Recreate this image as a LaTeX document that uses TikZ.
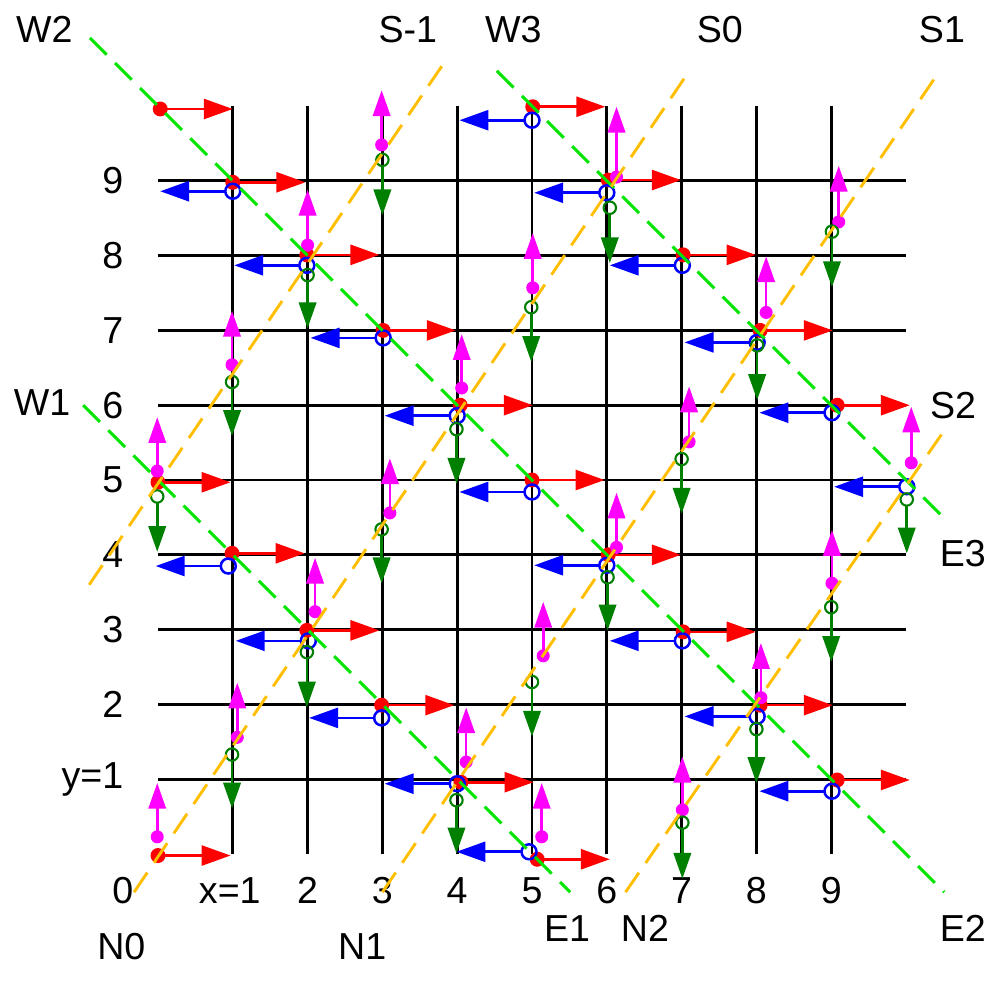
\documentclass[tikz,border=0pt]{standalone}
\usepackage{fontspec}
\setmainfont{Liberation Sans}
\usetikzlibrary{arrows.meta}
\definecolor{dgreen}{RGB}{0,128,0}
\definecolor{lgreen}{RGB}{0,230,0}
\definecolor{gold}{RGB}{255,190,0}
\definecolor{pink}{RGB}{255,0,255}

\begin{document}
\begin{tikzpicture}[x=1cm,y=1cm,
  every node/.style={font=\fontsize{14.3}{17}\selectfont},
  gridline/.style={line width=1.1pt},
  hvec/.style={line width=1pt,-{Triangle[length=11pt,width=7.6pt]}},
  vvec/.style={line width=1pt,-{Triangle[length=9.8pt,width=6.6pt]}},
  eline/.style={lgreen,line width=1.1pt,dash pattern=on 9pt off 4.5pt},
  nline/.style={gold,line width=1.1pt,dash pattern=on 9pt off 4.5pt}]
\useasboundingbox (-2.112,-1.684) rectangle (11.243,11.417);
% grid
\foreach \i in {1,...,9} {
  \draw[gridline] (\i,0) -- (\i,10);
  \draw[gridline] (0,\i) -- (10,\i);
}
% axis numbers
\node (xl0) at (-0.47,-0.49) {0};
\node (xl1) at (0.96,-0.49) {x=1};
\foreach \i in {2,...,9} \node (xl\i) at (\i,-0.49) {\i};
\node[anchor=east] (yl1) at (-0.34,1) {y=1};
\foreach \i in {2,...,9} \node[anchor=east] (yl\i) at (-0.34,\i) {\i};
% red: step right
\foreach \x/\y in {0/-0.02, 0.03/9.96, 1/8.98, 1.99/8.01, 3.01/7, 4.04/6, 5/5, 6.02/4,
    7.02/2.97, 8.05/1.99, 9.08/0.99, 0.99/4.02, 0/4.97, 1.99/2.99, 2.99/1.99,
    4.05/0.96, 5.07/-0.07, 5.01/9.99, 6.02/9.01, 7.02/8.01, 8.05/7, 9.08/6} {
  \draw[red,hvec] (\x,\y) -- ++(0.97,0);
  \fill[red] (\x,\y) circle (0.1);
}
% blue: step left
\foreach \x/\y in {1/8.86, 1.99/7.87, 3.01/6.9, 4/5.86, 5/4.84, 6/3.86, 7.01/2.85,
    8.01/1.84, 9.01/0.84, 0.94/3.85, 2.01/2.85, 2.99/1.82, 4/0.94, 4.96/0.03,
    5/9.81, 6/8.84, 7.01/7.87, 8.01/6.84, 9.01/5.9, 10.01/4.91} {
  \draw[blue,hvec] (\x-0.1,\y) -- ++(-0.87,0);
  \draw[blue,line width=0.95pt] (\x,\y) circle (0.1);
}
% magenta: step up
\foreach \x/\y/\t in {-0.01/0.23/0.95, 1.06/1.56/2.29, -0.01/5.12/5.84, 0.99/6.54/7.26,
    2.1/3.24/3.96, 3.1/4.56/5.29, 4.06/6.23/6.95, 5.01/7.57/8.3, 6.13/9.05/9.99,
    2.99/9.48/10.21, 2/8.14/8.88, 4.12/1.23/1.96, 5.13/0.23/0.95, 5.15/2.65/3.37,
    6.13/4.1/4.83, 7.1/5.51/6.25, 7.01/0.59/1.3, 8.06/2.09/2.82, 8.13/7.24/7.99,
    9.01/3.62/4.33, 9.1/8.45/9.2, 10.07/5.23/5.98} {
  \draw[pink,vvec] (\x,\y) -- (\x,\t);
  \fill[pink] (\x,\y) circle (0.087);
}
% green: step down
\foreach \x/\y/\t in {0.99/1.33/0.61, -0.01/4.78/4.04, 0.99/6.31/5.59, 1.99/2.7/1.96,
    2.99/4.34/3.62, 3.99/5.68/4.95, 4.99/7.31/6.58, 6.04/8.64/7.9, 3/9.28/8.54,
    2/7.74/7.03, 3.99/0.72/0.01, 5/2.3/1.57, 6.01/3.7/2.99, 7/5.28/4.55,
    7.01/0.42/-0.33, 8/1.67/0.95, 8.01/6.8/6.07, 9.01/8.32/7.58, 9/3.3/2.57,
    10.01/4.74/4.02} {
  \draw[dgreen,vvec] (\x,\y-0.083) -- (\x,\t);
  \draw[dgreen,line width=0.8pt] (\x,\y) circle (0.083);
}
% W-E lines
\draw[eline] (-1,6) -- (5.51,-0.51);
\draw[eline] (-0.91,10.91) -- (10.51,-0.51);
\draw[eline] (4.53,10.47) -- (10.51,4.49);
% N-S lines
\draw[nline] (-0.92,3.6) -- (3.84,10.6);
\draw[nline] (-0.32,-0.51) -- (7.09,10.45);
\draw[nline] (3,-0.51) -- (10.43,10.44);
\draw[nline] (6.25,-0.51) -- (10.51,5.66);
% line names
\node (w1) at (-1.55,6.03) {W1};
\node (w2) at (-1.52,11.02) {W2};
\node (w3) at (4.75,11.02) {W3};
\node (sm1) at (3.34,11.02) {S-1};
\node (s0) at (7.51,11.02) {S0};
\node (s1) at (10.48,11.02) {S1};
\node (s2) at (10.63,6) {S2};
\node (e3) at (10.76,4.02) {E3};
\node (e1) at (5.47,-1) {E1};
\node (n2) at (6.51,-1) {N2};
\node (e2) at (10.76,-1) {E2};
\node (n0) at (-0.49,-1.24) {N0};
\node (n1) at (2.73,-1.24) {N1};
\end{tikzpicture}
\end{document}
